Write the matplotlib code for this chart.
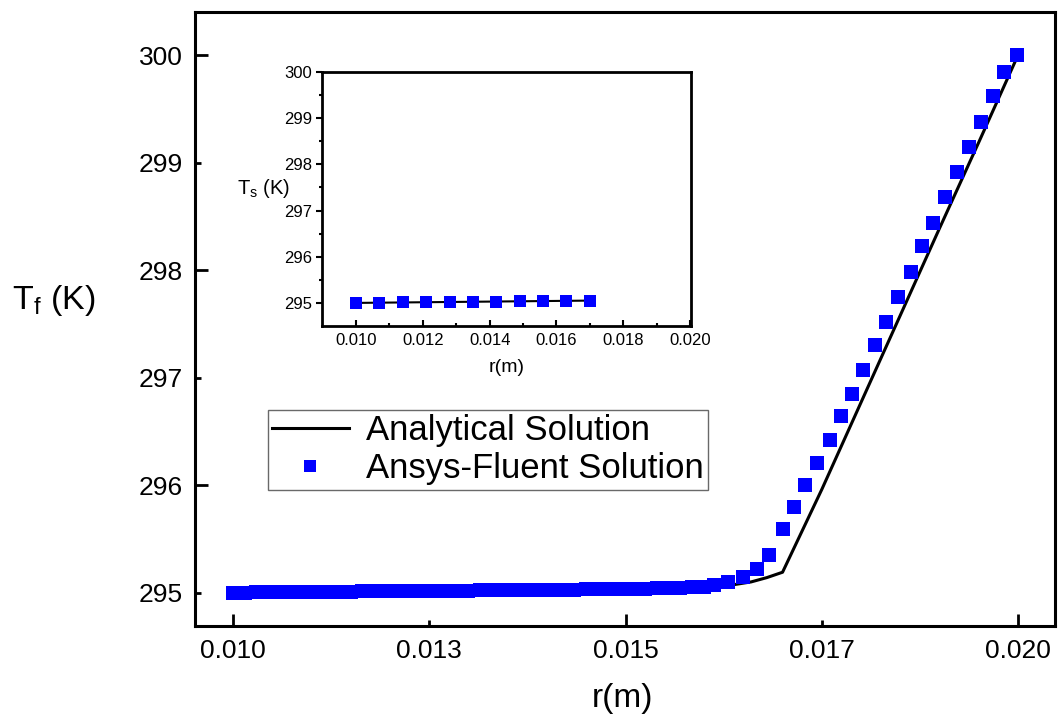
import matplotlib
matplotlib.use("Agg")
import matplotlib.pyplot as plt

plt.rcParams['font.family'] = ['Liberation Sans', 'DejaVu Sans']
plt.rcParams['mathtext.fontset'] = 'custom'
plt.rcParams['mathtext.rm'] = 'Liberation Sans'

# ---------------- data ----------------
# Analytical solution (main plot)
r_analytical = [0.0100, 0.0110, 0.0120, 0.0130, 0.0140, 0.0150, 0.0155, 0.0160,
                0.0163, 0.0166, 0.0168, 0.0170, 0.0175, 0.0180, 0.0185, 0.0190,
                0.0195, 0.0200]
tf_analytical = [295.000, 295.010, 295.015, 295.020, 295.025, 295.035, 295.040, 295.050,
                 295.065, 295.100, 295.140, 295.190, 295.960, 296.770, 297.580, 298.390,
                 299.190, 300.000]

# Ansys-Fluent solution (main plot)
r_fluent = [0.01000, 0.01015, 0.01030, 0.01045, 0.01060, 0.01075, 0.01090, 0.01105,
            0.01120, 0.01135, 0.01150, 0.01165, 0.01180, 0.01195, 0.01210, 0.01225,
            0.01240, 0.01255, 0.01270, 0.01285, 0.01300, 0.01315, 0.01330, 0.01345,
            0.01360, 0.01375, 0.01390, 0.01405, 0.01420, 0.01435, 0.01450, 0.01465,
            0.01480, 0.01495, 0.01510, 0.01525, 0.01540, 0.01555, 0.01570, 0.01585,
            0.01600, 0.01613, 0.01631, 0.01649, 0.01667, 0.01683, 0.01700, 0.01714,
            0.01729, 0.01744, 0.01760, 0.01775, 0.01788, 0.01803, 0.01818, 0.01832,
            0.01847, 0.01863, 0.01878, 0.01892, 0.01907, 0.01922, 0.01938, 0.01953,
            0.01968, 0.01982, 0.01999]
tf_fluent = [295.000, 295.001, 295.002, 295.003, 295.004, 295.005, 295.006, 295.007,
             295.008, 295.009, 295.010, 295.011, 295.012, 295.013, 295.014, 295.015,
             295.016, 295.017, 295.018, 295.019, 295.020, 295.021, 295.022, 295.023,
             295.024, 295.025, 295.026, 295.027, 295.028, 295.029, 295.030, 295.031,
             295.033, 295.034, 295.036, 295.038, 295.040, 295.043, 295.046, 295.050,
             295.055, 295.070, 295.100, 295.150, 295.220, 295.350, 295.590, 295.800,
             296.000, 296.210, 296.420, 296.640, 296.850, 297.070, 297.300, 297.520,
             297.750, 297.980, 298.220, 298.440, 298.680, 298.910, 299.140, 299.380,
             299.620, 299.840, 300.000]

# Inset: solid temperature
r_inset = [0.0100, 0.0107, 0.0114, 0.0121, 0.0128, 0.0135, 0.0142, 0.0149, 0.0156,
           0.0163, 0.0170]
ts_inset = [295.000, 295.005, 295.010, 295.015, 295.020, 295.025, 295.030, 295.035,
            295.040, 295.045, 295.050]

# tick labels
x_major = [0.010, 0.015, 0.020]
x_major_labels = ['0.010', '0.015', '0.020']
x_minor = [0.0125, 0.0175]
x_minor_labels = ['0.013', '0.017']
y_major = [296, 298, 300]
y_minor = [295, 297, 299]
inset_x_ticks = [0.010, 0.012, 0.014, 0.016, 0.018, 0.020]
inset_x_labels = ['0.010', '0.012', '0.014', '0.016', '0.018', '0.020']
inset_y_ticks = [295, 296, 297, 298, 299, 300]

BLUE = '#0000FF'
W, H = 1059, 715

fig = plt.figure(figsize=(W / 100, H / 100), dpi=100)

# ---------------- main axes ----------------
ax = fig.add_axes([195 / W, 1 - 626 / H, 860 / W, 614 / H])
ax.plot(r_analytical, tf_analytical, color='black', lw=2.2, zorder=2,
        label='Analytical Solution')
ax.plot(r_fluent, tf_fluent, ls='none', marker='s', ms=10, color=BLUE,
        markeredgewidth=0, zorder=3, snap=False, label='Ansys-Fluent Solution')

ax.set_xlim(0.009517, 0.02047)
ax.set_ylim(294.69, 300.40)

ax.set_xticks(x_major, labels=x_major_labels)
ax.set_xticks(x_minor, labels=x_minor_labels, minor=True)
ax.set_yticks(y_major, labels=[str(v) for v in y_major])
ax.set_yticks(y_minor, labels=[str(v) for v in y_minor], minor=True)

ax.tick_params(which='both', direction='in', width=2, labelsize=19, top=False, right=False)
ax.tick_params(axis='x', which='both', pad=9)
ax.tick_params(axis='y', which='both', pad=9)
ax.tick_params(which='major', length=9)
ax.tick_params(which='minor', length=4.5)
for s in ax.spines.values():
    s.set_linewidth(2.2)

leg = ax.legend(loc='upper left', bbox_to_anchor=((268 - 195) / 860, (626 - 410) / 614),
                borderaxespad=0, fontsize=25, frameon=True, fancybox=False,
                numpoints=1, handlelength=2.2, handletextpad=0.5, borderpad=0.12,
                labelspacing=0.15, markerscale=0.9)
leg.get_frame().set_edgecolor('#444444')
leg.get_frame().set_linewidth(1.0)

fig.text(12 / W, 1 - 300 / H, r'T$_\mathregular{f}$ (K)', fontsize=24.5,
         ha='left', va='center')
fig.text(623 / W, 1 - 699 / H, 'r(m)', fontsize=24, ha='center', va='center')

# ---------------- inset ----------------
axi = fig.add_axes([322 / W, 1 - 326 / H, 369 / W, 254 / H])
axi.plot(r_inset, ts_inset, color='black', lw=1.5, marker='s', ms=8,
         markerfacecolor=BLUE, markeredgecolor=BLUE, markeredgewidth=0)
axi.set_xlim(0.00898, 0.02003)
axi.set_ylim(294.5, 300.0)
axi.set_xticks(inset_x_ticks, labels=inset_x_labels)
axi.set_xticks([0.011, 0.013, 0.015, 0.017, 0.019], minor=True)
axi.set_yticks(inset_y_ticks, labels=[str(v) for v in inset_y_ticks])
axi.set_yticks([295.5, 296.5, 297.5, 298.5, 299.5], minor=True)
axi.tick_params(which='both', labelsize=12, width=1.5)
axi.tick_params(axis='x', which='both', direction='in', pad=5)
axi.tick_params(axis='y', which='both', direction='out', pad=3)
axi.tick_params(which='major', length=4)
axi.tick_params(which='minor', length=2)
for s in axi.spines.values():
    s.set_linewidth(2.0)

fig.text(290 / W, 1 - 188 / H, r'T$_\mathregular{s}$ (K)', fontsize=14.5,
         ha='right', va='center')
fig.text(507 / W, 1 - 367 / H, 'r(m)', fontsize=14, ha='center', va='center')

fig.savefig('out.png', dpi=100)
